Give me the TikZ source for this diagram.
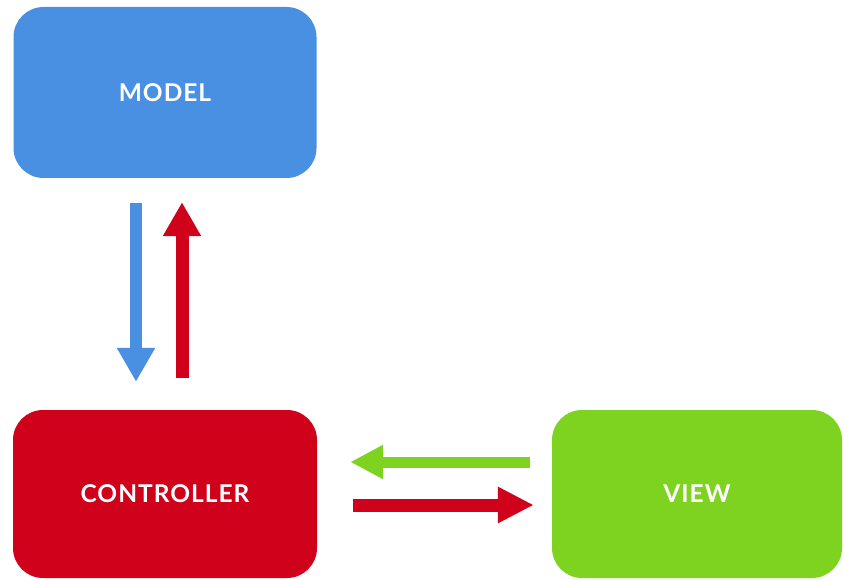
\documentclass[tikz,border=0pt]{standalone}
\usepackage{fontspec}
\setmainfont{Lato}[UprightFont=* Bold, LetterSpace=4]
\usetikzlibrary{arrows.meta}
\definecolor{mvcblue}{HTML}{4A90E2}
\definecolor{mvcred}{HTML}{D0021B}
\definecolor{mvcgreen}{HTML}{7ED321}
\tikzset{
  box/.style={rectangle, rounded corners=30pt, inner sep=0pt, text=white,
    font=\fontsize{24.5}{28}\selectfont},
  flow/.style={line width=12pt, -{Triangle[width=36pt,length=34pt]}},
}
\begin{document}
\begin{tikzpicture}[x=1pt,y=-1pt]
  \useasboundingbox[fill=white] (0,0) rectangle (845,580);
  % the three parts
  \node[box, fill=mvcblue, minimum width=303pt, minimum height=171pt] (model) at (165,92.5) {MODEL};
  \node[box, fill=mvcred, minimum width=304pt, minimum height=168pt] (ctrl) at (165,494) {CONTROLLER};
  \node[box, fill=mvcgreen, minimum width=290pt, minimum height=168pt] (view) at (697,494) {VIEW};
  % model <-> controller
  \draw[flow, mvcblue, shorten <=25pt, shorten >=28pt]
    ([xshift=-29pt]model.south) -- ([xshift=-29pt]ctrl.north);
  \draw[flow, mvcred, line width=13pt, shorten <=32pt, shorten >=24pt]
    ([xshift=17pt]ctrl.north) -- ([xshift=17pt]model.south);
  % controller <-> view
  \draw[flow, mvcgreen, line width=11pt, -{Triangle[width=32pt,length=33pt]}, shorten <=22pt, shorten >=33pt]
    ([yshift=32pt]view.west) -- ([yshift=32pt]ctrl.east);
  \draw[flow, mvcred, line width=13pt, -{Triangle[width=34pt,length=36pt]}, shorten <=36pt, shorten >=18pt]
    ([yshift=-11pt]ctrl.east) -- ([yshift=-11pt]view.west);
\end{tikzpicture}
\end{document}
